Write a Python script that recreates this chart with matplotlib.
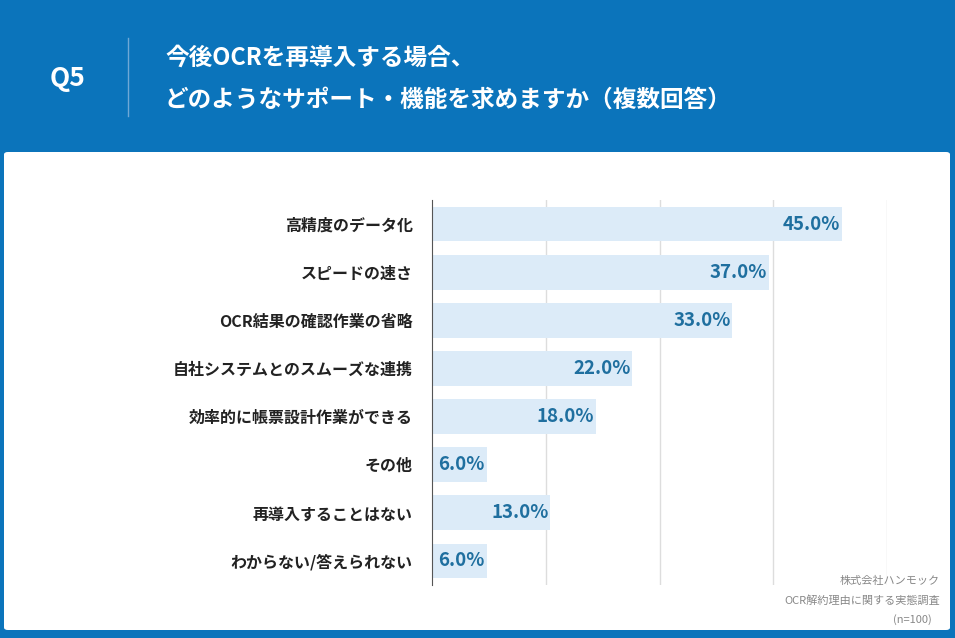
import matplotlib.pyplot as plt
from matplotlib.patches import FancyBboxPatch

plt.rcParams['font.family'] = ['Noto Sans CJK JP', 'DejaVu Sans']

categories = ['高精度のデータ化', 'スピードの速さ', 'OCR結果の確認作業の省略',
              '自社システムとのスムーズな連携', '効率的に帳票設計作業ができる',
              'その他', '再導入することはない', 'わからない/答えられない']
values = [45.0, 37.0, 33.0, 22.0, 18.0, 6.0, 13.0, 6.0]

W, H = 955, 638
fig = plt.figure(figsize=(W / 100, H / 100), dpi=100)
fig.patch.set_facecolor('#0b74bb')

# white panel behind the axes
panel = FancyBboxPatch((4 / W, 8 / H), 946 / W, 478 / H, boxstyle='round,pad=0,rounding_size=0.004',
                       transform=fig.transFigure, facecolor='white', edgecolor='none', zorder=-1)
fig.patches.append(panel)

# header
fig.text(68 / W, 1 - 78 / H, 'Q5', color='white', fontsize=19, fontweight='bold', va='center', ha='center')
fig.lines.append(plt.Line2D([128 / W, 128 / W], [1 - 38 / H, 1 - 116 / H], transform=fig.transFigure,
                            color='#6fa8d6', lw=1))
fig.text(165 / W, 1 - 58 / H, '今後OCRを再導入する場合、', color='white', fontsize=17, fontweight='bold', va='center')
fig.text(165 / W, 1 - 100 / H, 'どのようなサポート・機能を求めますか（複数回答）', color='white', fontsize=17,
         fontweight='bold', va='center')

ax = fig.add_axes([432 / W, 1 - 585 / H, 455 / W, 385 / H], zorder=2)
ax.patch.set_alpha(0)
y = range(len(categories))
ax.barh(y, values, height=0.72, color='#dcebf8')
for i, v in enumerate(values):
    ax.text(v - 0.2, i, f'{v:.1f}%', ha='right', va='center', color='#1f6f9f', fontsize=13.5, fontweight='bold')
ax.set_xlim(0, 50)
ax.set_ylim(len(categories) - 0.5, -0.5)
ax.set_xticks([12.5, 25, 37.5, 50])
ax.xaxis.grid(True, color='#dddddd', lw=1)
ax.set_axisbelow(True)
ax.tick_params(length=0, labelbottom=False)
ax.set_yticks(list(y))
ax.set_yticklabels(categories, fontsize=11.5, fontweight='bold', color='#222222')
ax.tick_params(axis='y', pad=14)
for s in ['top', 'right', 'bottom']:
    ax.spines[s].set_visible(False)
ax.spines['left'].set_color('#555555')

fig.text(940 / W, 1 - 581 / H, '株式会社ハンモック', ha='right', va='center', fontsize=8, color='#888888')
fig.text(940 / W, 1 - 601 / H, 'OCR解約理由に関する実態調査', ha='right', va='center', fontsize=8, color='#888888')
fig.text(932 / W, 1 - 620 / H, '(n=100)', ha='right', va='center', fontsize=8, color='#888888')

fig.savefig('out.png', dpi=100)
